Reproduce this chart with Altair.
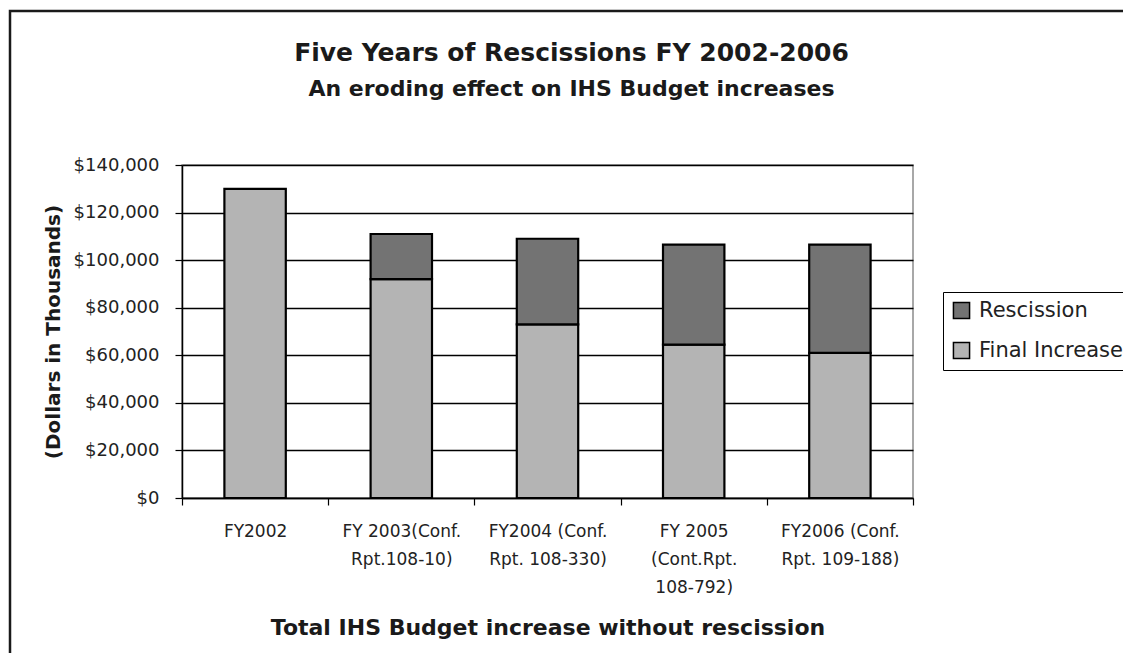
import altair as alt
import pandas as pd

categories = [
    "FY2002",
    "FY 2003(Conf.\nRpt.108-10)",
    "FY2004 (Conf.\nRpt. 108-330)",
    "FY 2005\n(Cont.Rpt.\n108-792)",
    "FY2006 (Conf.\nRpt. 109-188)",
]
final_increase = [130000, 92000, 73000, 64500, 61000]
rescission = [0, 19000, 36000, 42000, 45500]
series = ["Rescission", "Final Increase"]
y_ticks = [0, 20000, 40000, 60000, 80000, 100000, 120000, 140000]

rows = []
for c, f, r in zip(categories, final_increase, rescission):
    rows.append({"cat": c, "series": "Final Increase", "value": f, "ord": 0})
    rows.append({"cat": c, "series": "Rescission", "value": r, "ord": 1})
df = pd.DataFrame(rows)

FONT = "DejaVu Sans"

bars = alt.Chart(df).transform_filter("datum.value > 0").mark_bar(
    stroke="black", strokeWidth=2.2, width=alt.RelativeBandSize(0.42)
).encode(
    x=alt.X("cat:N", sort=categories,
            scale=alt.Scale(paddingInner=0, paddingOuter=0),
            axis=alt.Axis(
                title="Total IHS Budget increase without rescission",
                labelAngle=0, tickBand="extent",
                labelExpr="split(datum.label, '\\n')",
                labelLineHeight=28, labelPadding=18, tickSize=7,
                titlePadding=22,
            )),
    y=alt.Y("value:Q", stack="zero",
            scale=alt.Scale(domain=[0, 140000], nice=False),
            axis=alt.Axis(
                title="(Dollars in Thousands)", values=y_ticks,
                format="$,d", tickSize=7, labelPadding=16,
                titlePadding=10, labelFontSize=18,
            )),
    color=alt.Color("series:N",
                    scale=alt.Scale(domain=series, range=["#737373", "#b4b4b4"]),
                    legend=alt.Legend(
                        title=None, orient="none", legendX=761, legendY=127,
                        strokeColor="black", fillColor="white", padding=8,
                        symbolType="square", symbolSize=260,
                        symbolStrokeColor="black", symbolStrokeWidth=1.5,
                        labelFont=FONT, labelFontSize=21, labelColor="#222",
                        rowPadding=17, labelOffset=7,
                    )),
    order=alt.Order("ord:Q"),
)

frame = alt.Chart(alt.Data(values=[{"a": 1}])).mark_rect(
    fillOpacity=0, stroke="#1a1a1a", strokeWidth=2.5
).encode(
    x=alt.value(-172), x2=alt.value(949), y=alt.value(-154), y2=alt.value(500)
)

chart = alt.layer(frame, bars).properties(
    width=731, height=333,
    autosize=alt.AutoSizeParams(type="none"),
    padding={"left": 174, "top": 157, "right": 210, "bottom": 155},
    title=alt.TitleParams(
        text="Five Years of Rescissions FY 2002-2006",
        subtitle="An eroding effect on IHS Budget increases",
        anchor="middle", dx=24, offset=-90,
        font=FONT, fontSize=25, fontWeight="bold", color="#1a1a1a",
        subtitleFont=FONT, subtitleFontSize=22, subtitleFontWeight="bold",
        subtitleColor="#1a1a1a", subtitlePadding=13,
    ),
).configure(background="white").configure_view(
    stroke="#8c8c8c", strokeWidth=1.5
).configure_axis(
    labelFont=FONT, labelFontSize=17, labelColor="#222",
    titleFont=FONT, titleFontWeight="bold", titleColor="#1a1a1a",
    domainColor="black", domainWidth=1.5, tickColor="black", tickWidth=1.2,
).configure_axisY(
    gridColor="black", gridWidth=1.3, titleFontSize=20,
).configure_axisX(
    grid=False, titleFontSize=22,
)

chart.save("out.html", embed_options={"renderer": "svg", "actions": False})
